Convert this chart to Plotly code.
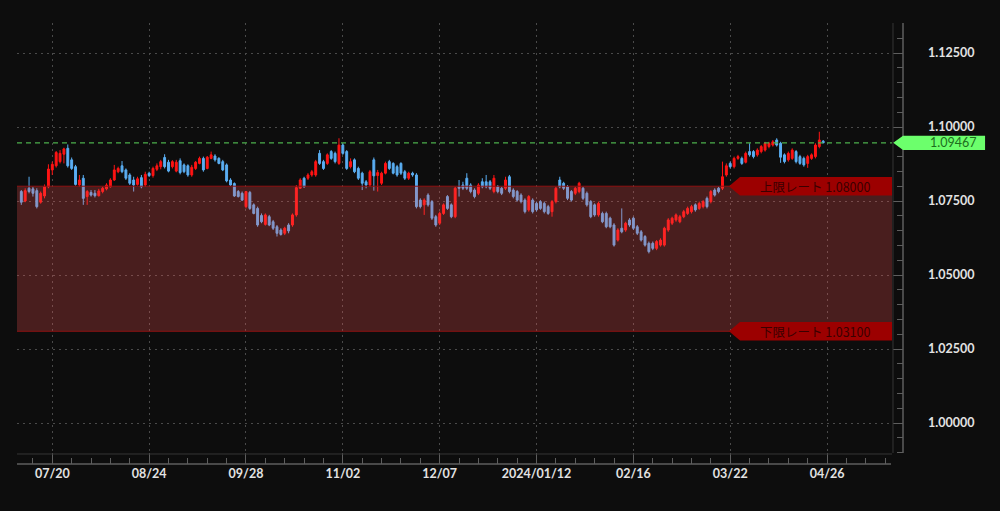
import pandas as pd
import plotly.graph_objects as go

# ---------------- data ----------------
trade_dates = [d for d in pd.bdate_range("2023-07-10", "2024-04-25") if d != pd.Timestamp("2024-01-01")]

open_px = [
    1.0782, 1.0750, 1.0793, 1.0791, 1.0785, 1.0746, 1.0767, 1.0798,
    1.0855, 1.0869, 1.0883, 1.0908, 1.0928, 1.0889, 1.0866, 1.0804, 1.0827, 1.0765,
    1.0779, 1.0776, 1.0768, 1.0782, 1.0791, 1.0798, 1.0821, 1.0849, 1.0869, 1.0855,
    1.0838, 1.0821, 1.0806, 1.0829, 1.0804, 1.0844, 1.0836, 1.0857, 1.0866, 1.0897,
    1.0881, 1.0866, 1.0851, 1.0886, 1.0872, 1.0869, 1.0838, 1.0860, 1.0877, 1.0894,
    1.0860, 1.0894, 1.0902, 1.0894, 1.0883, 1.0872, 1.0821, 1.0809, 1.0782, 1.0776,
    1.0731, 1.0779, 1.0737, 1.0725, 1.0701, 1.0671, 1.0697, 1.0680, 1.0663, 1.0652,
    1.0641, 1.0669, 1.0669, 1.0703, 1.0793, 1.0827, 1.0827, 1.0838, 1.0838, 1.0911,
    1.0883, 1.0877, 1.0917, 1.0911, 1.0877, 1.0939, 1.0917, 1.0866, 1.0889, 1.0860,
    1.0844, 1.0815, 1.0804, 1.0889, 1.0836, 1.0810, 1.0844, 1.0883, 1.0877, 1.0866,
    1.0877, 1.0849, 1.0827, 1.0844, 1.0838, 1.0753, 1.0737, 1.0770, 1.0748, 1.0697,
    1.0675, 1.0708, 1.0765, 1.0737, 1.0697, 1.0798, 1.0804, 1.0827, 1.0804, 1.0787,
    1.0776, 1.0815, 1.0815, 1.0815, 1.0782, 1.0798, 1.0793, 1.0793, 1.0832, 1.0787,
    1.0782, 1.0770, 1.0753, 1.0720, 1.0753, 1.0742, 1.0748, 1.0742, 1.0731, 1.0714,
    1.0748, 1.0821, 1.0810, 1.0798, 1.0782, 1.0776, 1.0782, 1.0793, 1.0776, 1.0748,
    1.0737, 1.0703, 1.0708, 1.0708, 1.0692, 1.0669, 1.0618, 1.0658, 1.0652, 1.0686,
    1.0692, 1.0663, 1.0646, 1.0630, 1.0607, 1.0607, 1.0590, 1.0601, 1.0601, 1.0652,
    1.0675, 1.0686, 1.0680, 1.0697, 1.0708, 1.0714, 1.0737, 1.0725, 1.0731, 1.0759,
    1.0748, 1.0787, 1.0793, 1.0793, 1.0838, 1.0877, 1.0866, 1.0894, 1.0894, 1.0881,
    1.0917, 1.0917, 1.0906, 1.0917, 1.0922, 1.0934, 1.0939, 1.0956, 1.0945, 1.0906,
    1.0889, 1.0894, 1.0917, 1.0900, 1.0894, 1.0877, 1.0894, 1.0900, 1.0934, 1.0952,
]
high_px = [
    1.0787, 1.0793, 1.0832, 1.0798, 1.0793, 1.0782, 1.0806, 1.0874,
    1.0883, 1.0919, 1.0922, 1.0930, 1.0941, 1.0897, 1.0872, 1.0838, 1.0838, 1.0787,
    1.0787, 1.0787, 1.0791, 1.0798, 1.0810, 1.0827, 1.0872, 1.0866, 1.0885, 1.0860,
    1.0844, 1.0832, 1.0832, 1.0838, 1.0849, 1.0849, 1.0866, 1.0877, 1.0889, 1.0908,
    1.0889, 1.0888, 1.0889, 1.0894, 1.0877, 1.0874, 1.0872, 1.0885, 1.0900, 1.0900,
    1.0902, 1.0917, 1.0908, 1.0898, 1.0889, 1.0877, 1.0827, 1.0813, 1.0787, 1.0782,
    1.0784, 1.0784, 1.0742, 1.0731, 1.0708, 1.0708, 1.0703, 1.0686, 1.0669, 1.0658,
    1.0663, 1.0675, 1.0708, 1.0804, 1.0827, 1.0832, 1.0844, 1.0855, 1.0889, 1.0922,
    1.0889, 1.0911, 1.0922, 1.0917, 1.0962, 1.0945, 1.0922, 1.0894, 1.0894, 1.0866,
    1.0849, 1.0821, 1.0855, 1.0897, 1.0855, 1.0849, 1.0883, 1.0889, 1.0881, 1.0872,
    1.0881, 1.0855, 1.0849, 1.0849, 1.0844, 1.0759, 1.0759, 1.0776, 1.0753, 1.0703,
    1.0714, 1.0742, 1.0770, 1.0742, 1.0798, 1.0821, 1.0815, 1.0844, 1.0810, 1.0793,
    1.0810, 1.0827, 1.0838, 1.0821, 1.0838, 1.0804, 1.0798, 1.0832, 1.0838, 1.0793,
    1.0787, 1.0776, 1.0759, 1.0770, 1.0759, 1.0748, 1.0753, 1.0748, 1.0737, 1.0753,
    1.0798, 1.0832, 1.0815, 1.0804, 1.0787, 1.0798, 1.0815, 1.0798, 1.0782, 1.0753,
    1.0742, 1.0748, 1.0714, 1.0714, 1.0697, 1.0675, 1.0658, 1.0725, 1.0680, 1.0692,
    1.0697, 1.0669, 1.0652, 1.0635, 1.0613, 1.0613, 1.0618, 1.0624, 1.0663, 1.0692,
    1.0697, 1.0708, 1.0703, 1.0720, 1.0731, 1.0737, 1.0742, 1.0748, 1.0753, 1.0765,
    1.0787, 1.0793, 1.0798, 1.0883, 1.0877, 1.0883, 1.0900, 1.0906, 1.0900, 1.0917,
    1.0945, 1.0922, 1.0928, 1.0939, 1.0950, 1.0950, 1.0956, 1.0962, 1.0950, 1.0911,
    1.0917, 1.0928, 1.0922, 1.0906, 1.0900, 1.0906, 1.0911, 1.0945, 1.0984, 1.0956,
]
low_px = [
    1.0737, 1.0746, 1.0776, 1.0765, 1.0725, 1.0741, 1.0759, 1.0793,
    1.0838, 1.0863, 1.0877, 1.0877, 1.0863, 1.0855, 1.0802, 1.0798, 1.0737, 1.0737,
    1.0765, 1.0762, 1.0765, 1.0776, 1.0786, 1.0795, 1.0818, 1.0844, 1.0844, 1.0821,
    1.0804, 1.0782, 1.0802, 1.0793, 1.0798, 1.0831, 1.0829, 1.0851, 1.0857, 1.0860,
    1.0847, 1.0860, 1.0847, 1.0840, 1.0844, 1.0832, 1.0832, 1.0855, 1.0874, 1.0849,
    1.0857, 1.0891, 1.0883, 1.0874, 1.0851, 1.0813, 1.0801, 1.0764, 1.0762, 1.0750,
    1.0725, 1.0720, 1.0705, 1.0663, 1.0675, 1.0667, 1.0665, 1.0652, 1.0630, 1.0633,
    1.0635, 1.0641, 1.0663, 1.0697, 1.0791, 1.0795, 1.0821, 1.0832, 1.0832, 1.0872,
    1.0855, 1.0872, 1.0889, 1.0877, 1.0872, 1.0906, 1.0855, 1.0860, 1.0844, 1.0821,
    1.0787, 1.0793, 1.0798, 1.0785, 1.0782, 1.0804, 1.0840, 1.0855, 1.0840, 1.0832,
    1.0838, 1.0821, 1.0821, 1.0832, 1.0725, 1.0725, 1.0703, 1.0731, 1.0686, 1.0663,
    1.0669, 1.0703, 1.0720, 1.0692, 1.0692, 1.0765, 1.0787, 1.0787, 1.0776, 1.0759,
    1.0770, 1.0793, 1.0793, 1.0787, 1.0776, 1.0776, 1.0770, 1.0787, 1.0776, 1.0759,
    1.0748, 1.0742, 1.0708, 1.0714, 1.0708, 1.0714, 1.0720, 1.0708, 1.0703, 1.0697,
    1.0742, 1.0793, 1.0787, 1.0753, 1.0748, 1.0770, 1.0776, 1.0753, 1.0731, 1.0692,
    1.0697, 1.0697, 1.0675, 1.0658, 1.0658, 1.0596, 1.0613, 1.0641, 1.0646, 1.0663,
    1.0652, 1.0635, 1.0613, 1.0596, 1.0573, 1.0584, 1.0584, 1.0596, 1.0596, 1.0646,
    1.0669, 1.0680, 1.0675, 1.0692, 1.0703, 1.0708, 1.0714, 1.0720, 1.0725, 1.0725,
    1.0742, 1.0765, 1.0776, 1.0787, 1.0832, 1.0860, 1.0860, 1.0889, 1.0872, 1.0877,
    1.0900, 1.0894, 1.0900, 1.0911, 1.0917, 1.0928, 1.0934, 1.0934, 1.0879, 1.0877,
    1.0883, 1.0889, 1.0877, 1.0872, 1.0866, 1.0862, 1.0889, 1.0894, 1.0928, 1.0945,
]
close_px = [
    1.0746, 1.0785, 1.0782, 1.0776, 1.0731, 1.0776, 1.0798, 1.0858,
    1.0874, 1.0914, 1.0911, 1.0926, 1.0869, 1.0860, 1.0806, 1.0821, 1.0759, 1.0782,
    1.0770, 1.0768, 1.0784, 1.0793, 1.0804, 1.0821, 1.0855, 1.0860, 1.0849, 1.0827,
    1.0810, 1.0804, 1.0825, 1.0798, 1.0840, 1.0836, 1.0860, 1.0869, 1.0883, 1.0866,
    1.0851, 1.0883, 1.0881, 1.0846, 1.0849, 1.0838, 1.0864, 1.0881, 1.0894, 1.0855,
    1.0898, 1.0906, 1.0889, 1.0877, 1.0855, 1.0818, 1.0804, 1.0767, 1.0765, 1.0753,
    1.0782, 1.0725, 1.0708, 1.0669, 1.0680, 1.0703, 1.0669, 1.0658, 1.0641, 1.0637,
    1.0658, 1.0649, 1.0703, 1.0795, 1.0821, 1.0798, 1.0838, 1.0849, 1.0883, 1.0877,
    1.0860, 1.0906, 1.0894, 1.0883, 1.0939, 1.0911, 1.0860, 1.0883, 1.0849, 1.0827,
    1.0810, 1.0804, 1.0849, 1.0835, 1.0846, 1.0844, 1.0877, 1.0860, 1.0844, 1.0838,
    1.0844, 1.0827, 1.0844, 1.0838, 1.0731, 1.0731, 1.0753, 1.0737, 1.0692, 1.0669,
    1.0708, 1.0737, 1.0725, 1.0697, 1.0793, 1.0793, 1.0793, 1.0793, 1.0782, 1.0765,
    1.0804, 1.0798, 1.0798, 1.0793, 1.0827, 1.0782, 1.0776, 1.0821, 1.0782, 1.0765,
    1.0753, 1.0748, 1.0714, 1.0765, 1.0714, 1.0720, 1.0725, 1.0714, 1.0708, 1.0748,
    1.0793, 1.0798, 1.0793, 1.0759, 1.0753, 1.0793, 1.0810, 1.0759, 1.0737, 1.0697,
    1.0703, 1.0742, 1.0680, 1.0663, 1.0663, 1.0601, 1.0652, 1.0646, 1.0675, 1.0669,
    1.0658, 1.0641, 1.0618, 1.0601, 1.0579, 1.0590, 1.0613, 1.0618, 1.0658, 1.0686,
    1.0692, 1.0703, 1.0697, 1.0714, 1.0725, 1.0731, 1.0720, 1.0742, 1.0748, 1.0731,
    1.0782, 1.0770, 1.0782, 1.0832, 1.0869, 1.0866, 1.0894, 1.0900, 1.0877, 1.0911,
    1.0906, 1.0900, 1.0922, 1.0934, 1.0945, 1.0945, 1.0950, 1.0939, 1.0898, 1.0883,
    1.0911, 1.0922, 1.0883, 1.0877, 1.0872, 1.0900, 1.0906, 1.0939, 1.0956, 1.09467,
]

upper_rate = 1.08000
lower_rate = 1.03100
current_rate = 1.09467

tick_dates = ["2023-07-20", "2023-08-24", "2023-09-28", "2023-11-02", "2023-12-07",
              "2024-01-12", "2024-02-16", "2024-03-22", "2024-04-26"]
tick_labels = ["07/20", "08/24", "09/28", "11/02", "12/07",
               "2024/01/12", "02/16", "03/22", "04/26"]
y_ticks = [1.000, 1.025, 1.050, 1.075, 1.100, 1.125]

# ---------------- figure ----------------
BG = "#0d0d0d"
UP = "#ff1414"
DOWN = "#5aaef2"

axis_days = [d for d in pd.bdate_range("2023-07-06", "2024-05-24") if d != pd.Timestamp("2024-01-01")]
anchor = axis_days.index(pd.Timestamp("2023-07-20"))
minor_days = [d.strftime("%Y-%m-%d") for k, d in enumerate(axis_days) if (k - anchor) % 5 == 0]

fig = go.Figure()
fig.add_trace(go.Candlestick(
    x=trade_dates, open=open_px, high=high_px, low=low_px, close=close_px,
    increasing=dict(line=dict(color=UP, width=1), fillcolor=UP),
    decreasing=dict(line=dict(color=DOWN, width=1), fillcolor=DOWN),
    whiskerwidth=0, showlegend=False, hoverinfo="skip",
))

XR = 0.9876  # right end of plotting strip (paper)
shapes = [
    # limit band
    dict(type="rect", xref="paper", yref="y", x0=0, x1=XR, y0=lower_rate, y1=upper_rate,
         fillcolor="rgba(255,85,85,0.25)", line=dict(width=0), layer="above"),
    dict(type="line", xref="paper", yref="y", x0=0, x1=XR, y0=upper_rate, y1=upper_rate,
         line=dict(color="#8e1212", width=1), layer="above"),
    dict(type="line", xref="paper", yref="y", x0=0, x1=XR, y0=lower_rate, y1=lower_rate,
         line=dict(color="#8e1212", width=1), layer="above"),
    # current rate dashed line
    dict(type="line", xref="paper", yref="y", x0=0, x1=XR, y0=current_rate, y1=current_rate,
         line=dict(color="#4caf4c", width=1.3, dash="5px,4px"), layer="above"),
    # inner frame lines
    dict(type="line", xref="paper", yref="paper", x0=0, x1=XR, y0=0.0227, y1=0.0227,
         line=dict(color="#363636", width=1), layer="above"),
    dict(type="line", xref="paper", yref="paper", x0=0.9887, x1=0.9887, y0=0.025, y1=1,
         line=dict(color="#363636", width=1), layer="above"),
    # axis lines
    dict(type="line", xref="paper", yref="paper", x0=0, x1=0.9865, y0=0, y1=0,
         line=dict(color="#5e5e5e", width=1.5), layer="above"),
    dict(type="line", xref="paper", yref="paper", x0=1, x1=1, y0=0.025, y1=1,
         line=dict(color="#5e5e5e", width=1.5), layer="above"),
]


def tag(val, half, tip, body, right, color):
    path = (f"M {tip},{val} L {body},{val + half} L {right},{val + half} "
            f"L {right},{val - half} L {body},{val - half} Z")
    return dict(type="path", xref="paper", yref="y", path=path, fillcolor=color,
                line=dict(width=0), layer="above")


shapes.append(tag(upper_rate, 0.0031, 0.8036, 0.8160, XR, "#9c0000"))
shapes.append(tag(lower_rate, 0.0031, 0.8036, 0.8160, XR, "#9c0000"))
shapes.append(tag(current_rate, 0.0024, 0.9890, 1.0, 1.0926, "#6cff6c"))

annotations = [
    dict(xref="paper", yref="y", x=0.9007, y=upper_rate, text=f"上限レート {upper_rate:.5f}",
         xanchor="center", yanchor="middle", showarrow=False,
         font=dict(family="Noto Sans CJK JP", size=12.5, color="#3a0000")),
    dict(xref="paper", yref="y", x=0.9007, y=lower_rate, text=f"下限レート {lower_rate:.5f}",
         xanchor="center", yanchor="middle", showarrow=False,
         font=dict(family="Noto Sans CJK JP", size=12.5, color="#3a0000")),
    dict(xref="paper", yref="y", x=1.0564, y=current_rate, text=f"{current_rate:.5f}",
         xanchor="center", yanchor="middle", showarrow=False,
         font=dict(family="Lato", size=12.5, color="#1d6e1d")),
]

fig.update_layout(
    width=1000, height=511,
    margin=dict(l=17, r=97, t=23, b=47),
    paper_bgcolor=BG, plot_bgcolor=BG,
    shapes=shapes, annotations=annotations,
    showlegend=False,
    xaxis=dict(
        type="date",
        range=["2023-07-06 21:20", "2024-05-23 14:24"],
        rangebreaks=[dict(bounds=["sat", "mon"]), dict(values=["2024-01-01"])],
        rangeslider=dict(visible=False),
        tickmode="array", tickvals=tick_dates, ticktext=tick_labels,
        ticks="inside", ticklen=11, tickcolor="#5e5e5e", tickwidth=1,
        minor=dict(tickmode="array", tickvals=minor_days, ticks="inside", ticklen=6,
                   tickcolor="#5e5e5e", showgrid=False),
        showgrid=True, gridcolor="#4a4a4a", gridwidth=1, griddash="2px,4px",
        showline=False, zeroline=False,
        tickfont=dict(family="Lato", size=12.5, color="#e2e2e2", weight="bold"),
    ),
    yaxis=dict(
        side="right",
        range=[0.98615, 1.13514],
        tickmode="array", tickvals=y_ticks, tickformat=".5f",
        ticks="inside", ticklen=10, tickcolor="#5e5e5e", tickwidth=1,
        minor=dict(dtick=0.005, ticks="inside", ticklen=6, tickcolor="#5e5e5e", showgrid=False),
        showgrid=True, gridcolor="#4a4a4a", gridwidth=1, griddash="2px,4px",
        showline=False, zeroline=False,
        ticklabelstandoff=24,
        tickfont=dict(family="Lato", size=12.5, color="#e2e2e2", weight="bold"),
    ),
)

fig.write_html("out.html", config={"displayModeBar": False},
               post_script="document.body.style.margin='0';document.body.style.overflow='hidden';")
